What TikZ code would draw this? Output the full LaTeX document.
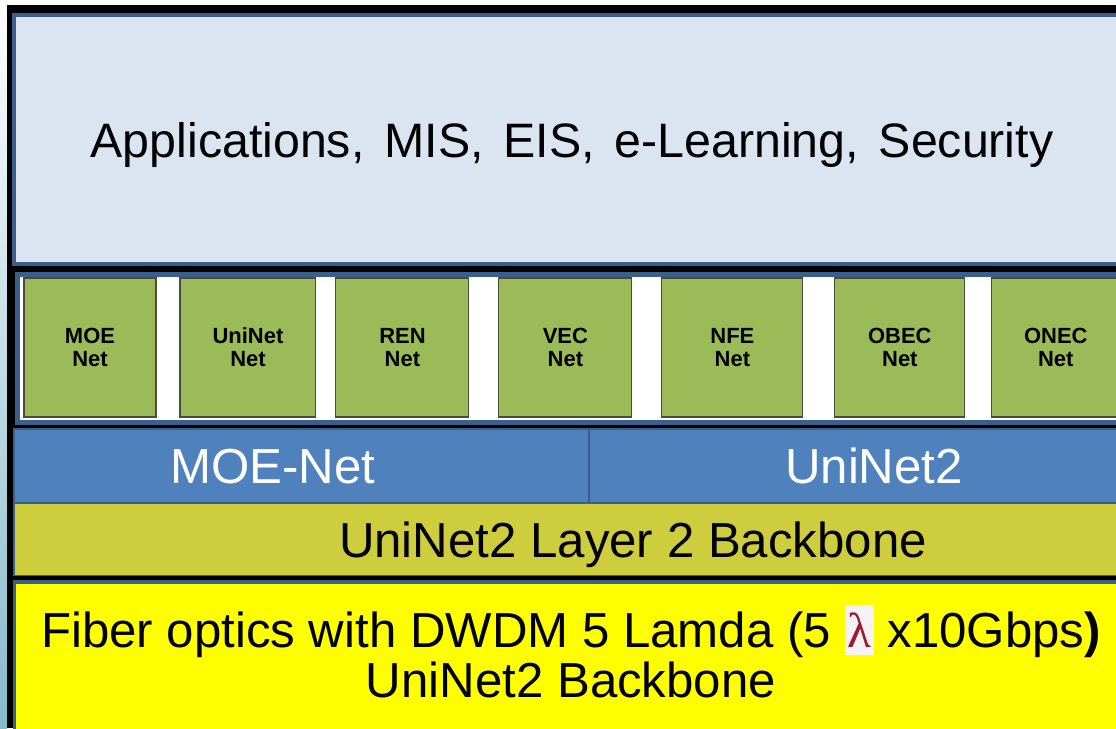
\documentclass[tikz,border=0pt]{standalone}
\usepackage{fontspec}
\setmainfont{Liberation Sans}
\newfontfamily\greekfont{Liberation Serif}
\usetikzlibrary{positioning}

\definecolor{frameblue}{HTML}{3A5F8B}
\definecolor{appfill}{HTML}{DBE5F1}
\definecolor{netgreen}{HTML}{9BBB59}
\definecolor{netedge}{HTML}{4B4B3E}
\definecolor{barblue}{HTML}{4F81BD}
\definecolor{barolive}{HTML}{CDCD3E}
\definecolor{fibreyellow}{HTML}{FFFF00}
\definecolor{lamdared}{HTML}{9A1A33}
\definecolor{lamdabg}{HTML}{F4F2F4}
\definecolor{stripteal}{HTML}{86BACB}

\newcommand{\lamdamark}{{\setlength{\fboxsep}{0pt}\colorbox{lamdabg}{\hspace{1.5pt}\rule[-4pt]{0pt}{28.4pt}\greekfont\textcolor{lamdared}{λ}\hspace{1.5pt}}}}

\begin{document}
\begin{tikzpicture}[
    x=0.02cm, y=-0.02cm,
    band/.style={rectangle, draw=frameblue, inner sep=0pt},
    netbox/.style={rectangle, draw=netedge, fill=netgreen, line width=0.6pt,
                   minimum height=2.78cm, inner sep=0pt, outer sep=0pt, align=center,
                   font=\fontsize{12.5}{13}\selectfont\bfseries},
    bartext/.style={inner sep=0pt, text depth=0pt, font=\fontsize{28}{30}\selectfont}
]

    \useasboundingbox (0,0) rectangle (1116,728);
    \clip (0,0) rectangle (1116,728);
    \shade[top color=white, bottom color=stripteal] (0,0) rectangle (7,728);
    \fill[black] (7,5) rectangle (1116,728);

    \node (apps) [band, fill=appfill, line width=2.3pt, minimum width=22.32cm, minimum height=4.98cm,
                  text depth=0pt, font=\fontsize{27.5}{30}\selectfont]
        at (572,139.5) {\spaceskip=0.41em\relax Applications, MIS, EIS, e-Learning, Security};

    \node (netband) [band, fill=white, line width=2.8pt, minimum width=22.25cm, minimum height=2.96cm]
        at (573.75,348.5) {};
    \node (moe) [netbox, minimum width=2.64cm] at (90,347.5) {MOE\\Net};
    \node (uninet) [netbox, minimum width=2.72cm, right=0.48cm of moe] {UniNet\\Net};
    \node (ren) [netbox, minimum width=2.66cm, right=0.4cm of uninet] {REN\\Net};
    \node (vec) [netbox, minimum width=2.66cm, right=0.6cm of ren] {VEC\\Net};
    \node (nfe) [netbox, minimum width=2.82cm, right=0.6cm of vec] {NFE\\Net};
    \node (obec) [netbox, minimum width=2.6cm, right=0.64cm of nfe] {OBEC\\Net};
    \node (onec) [netbox, minimum width=2.56cm, right=0.54cm of obec] {ONEC\\Net};

    \node (moenet) [band, fill=barblue, line width=1.1pt, minimum width=11.5cm, minimum height=1.48cm]
        at (301.5,466) {};
    \node (uninet2) [band, fill=barblue, line width=1.1pt, minimum width=10.82cm, minimum height=1.48cm]
        at (859.5,466) {};
    \node (moenettext) [bartext, text=white] at (273,466) {MOE-Net};
    \node (uninet2text) [bartext, text=white] at (874,466) {UniNet2};

    \node (layer2) [band, fill=barolive, line width=1.1pt, minimum width=22.32cm, minimum height=1.45cm]
        at (572,539.25) {};
    \node (layer2text) [bartext] at (633,539.5) {UniNet2 Layer 2 Backbone};

    \node (fibre) [band, fill=fibreyellow, line width=2pt, minimum width=22.31cm, minimum height=3.56cm]
        at (572.25,671) {};
    \node (fibretext) [inner sep=0pt, align=center, font=\fontsize{28}{28.4}\selectfont] at (571,651.5)
        {Fiber optics with DWDM 5 Lamda (5 \lamdamark{} x10Gbps{\bfseries )}\\UniNet2 Backbone};

\end{tikzpicture}
\end{document}
